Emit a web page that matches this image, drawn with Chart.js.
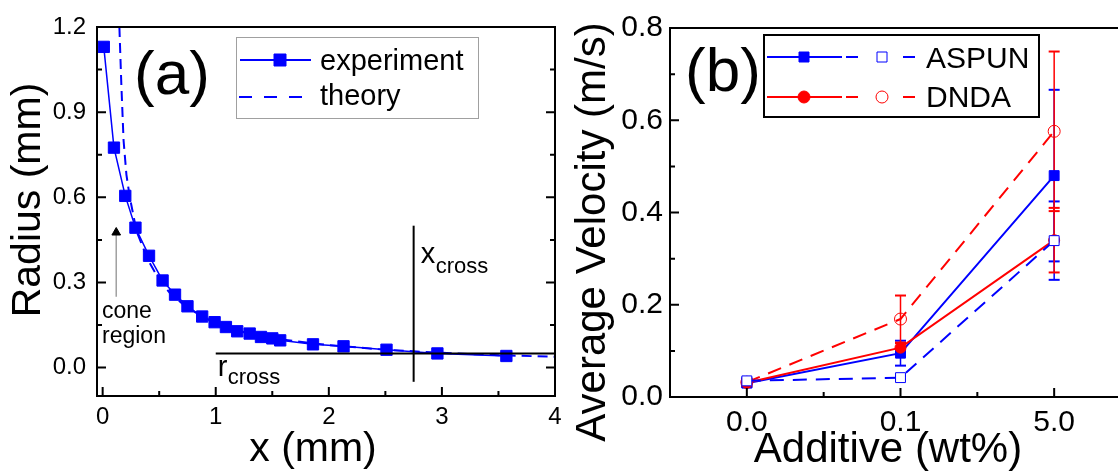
<!DOCTYPE html>
<html>
<head>
<meta charset="utf-8">
<script src="https://cdn.jsdelivr.net/npm/chart.js@4.4.1/dist/chart.umd.min.js"></script>
<style>
    html, body { margin: 0; padding: 0; background: #fff; overflow: hidden; }
    #wrap { position: relative; width: 1118px; height: 476px; overflow: hidden; }
    #chart-a { position: absolute; left: 0; top: 0; }
    #chart-b { position: absolute; left: 560px; top: 0; }
</style>
</head>
<body>
<div id="wrap">
    <canvas id="chart-a" width="570" height="476"></canvas>
    <canvas id="chart-b" width="600" height="476"></canvas>
</div>
<script>
// ---- panel (a): radius along x ----
const expX = [0.01, 0.10, 0.20, 0.29, 0.41, 0.53, 0.64, 0.75, 0.88, 0.99, 1.09, 1.19, 1.30, 1.40, 1.50, 1.57, 1.86, 2.13, 2.51, 2.96, 3.57];
const expY = [1.13, 0.775, 0.605, 0.493, 0.394, 0.307, 0.257, 0.216, 0.180, 0.160, 0.143, 0.128, 0.120, 0.108, 0.103, 0.096, 0.082, 0.075, 0.063, 0.050, 0.041];
const theoryX = [0.148, 0.165, 0.185, 0.21, 0.24, 0.30, 0.40, 0.50, 0.60, 0.75, 1.0, 1.25, 1.5, 2.0, 2.5, 3.0, 3.5, 4.0];
const theoryY = [1.2, 1.0, 0.80, 0.68, 0.60, 0.48, 0.38, 0.31, 0.26, 0.21, 0.155, 0.125, 0.103, 0.079, 0.063, 0.052, 0.044, 0.038];
const xCross = 2.75;
const rCross = 0.05;
const aXTicks = [0, 1, 2, 3, 4];
const aXMinor = [0.5, 1.5, 2.5, 3.5];
const aYTicks = [0, 0.3, 0.6, 0.9, 1.2];
const aYMinor = [0.15, 0.45, 0.75, 1.05];

// ---- panel (b): average velocity vs additive ----
const additives = ['0.0', '0.1', '5.0'];
const aspunSolid = [0.030, 0.095, 0.480];
const aspunSolidErr = [0.008, 0.027, 0.186];
const aspunOpen = [0.035, 0.042, 0.339];
const aspunOpenErr = [0.006, 0.004, 0.085];
const dndaSolid = [0.031, 0.107, 0.340];
const dndaSolidErr = [0.008, 0.010, 0.070];
const dndaOpen = [0.032, 0.169, 0.576];
const dndaOpenErr = [0.007, 0.051, 0.173];
const bYTicks = [0, 0.2, 0.4, 0.6, 0.8];
const bYMinor = [0.1, 0.3, 0.5, 0.7];
const bXMinor = [0.5, 1.5];

const FONT = "'Liberation Sans', Arial, sans-serif";
const BLUE = '#0000ff';
const RED = '#ff0000';
const NONE = 'rgba(0,0,0,0)';

Chart.defaults.font.family = FONT;
Chart.defaults.color = '#000';

function font(size) {
    return size + 'px ' + FONT;
}

// box round the plot with Origin style inward ticks
function framePlugin(opts) {
    return {
        id: 'frame',
        afterDatasetsDraw(chart) {
            const ctx = chart.ctx;
            const a = chart.chartArea;
            const x = chart.scales.x;
            const y = chart.scales.y;
            ctx.save();
            ctx.strokeStyle = '#000';
            ctx.lineWidth = 2;
            ctx.beginPath();
            opts.xMajor.forEach(v => {
                const px = x.getPixelForValue(v);
                ctx.moveTo(px, a.bottom);
                ctx.lineTo(px, a.bottom - 9);
            });
            opts.xMinor.forEach(v => {
                const px = x.getPixelForValue(v);
                ctx.moveTo(px, a.bottom);
                ctx.lineTo(px, a.bottom - 5);
            });
            opts.yMajor.forEach(v => {
                const py = y.getPixelForValue(v);
                ctx.moveTo(a.left, py);
                ctx.lineTo(a.left + 9, py);
                if (opts.right) {
                    ctx.moveTo(a.right, py);
                    ctx.lineTo(a.right - 9, py);
                }
            });
            opts.yMinor.forEach(v => {
                const py = y.getPixelForValue(v);
                ctx.moveTo(a.left, py);
                ctx.lineTo(a.left + 5, py);
                if (opts.right) {
                    ctx.moveTo(a.right, py);
                    ctx.lineTo(a.right - 5, py);
                }
            });
            ctx.stroke();
            ctx.strokeRect(a.left, a.top, a.right - a.left, a.bottom - a.top);
            ctx.restore();
        }
    };
}

function drawText(ctx, text, x, y, size, align, rotate) {
    ctx.save();
    ctx.font = font(size);
    ctx.fillStyle = '#000';
    ctx.textAlign = align || 'left';
    ctx.textBaseline = 'alphabetic';
    ctx.translate(x, y);
    if (rotate) ctx.rotate(-Math.PI / 2);
    ctx.fillText(text, 0, 0);
    ctx.restore();
}

function marker(ctx, style, x, y, size, color, filled) {
    ctx.save();
    ctx.strokeStyle = color;
    ctx.fillStyle = filled ? color : '#fff';
    ctx.lineWidth = 1;
    ctx.beginPath();
    if (style === 'rect') {
        ctx.rect(x - size / 2, y - size / 2, size, size);
    } else {
        ctx.arc(x, y, size / 2, 0, Math.PI * 2);
    }
    ctx.fill();
    ctx.stroke();
    ctx.restore();
}

const annotationsA = {
    id: 'annotationsA',
    afterDraw(chart) {
        const ctx = chart.ctx;
        const x = chart.scales.x;
        const y = chart.scales.y;

        drawText(ctx, 'Radius (mm)', 40, 200, 41, 'center', true);
        drawText(ctx, 'x (mm)', 313, 461, 41, 'center');
        drawText(ctx, '(a)', 134, 94, 62);

        // x_cross and r_cross labels
        const xc = x.getPixelForValue(xCross);
        drawText(ctx, 'x', xc + 7, 263, 29);
        drawText(ctx, 'cross', xc + 22, 273, 22);
        const r1 = x.getPixelForValue(1);
        const rc = y.getPixelForValue(rCross);
        drawText(ctx, 'r', r1 + 2, rc + 23, 29);
        drawText(ctx, 'cross', r1 + 12, rc + 31, 22);

        drawText(ctx, 'cone', 102, 318, 23);
        drawText(ctx, 'region', 102, 343, 23);

        // legend
        ctx.save();
        ctx.strokeStyle = '#a0a0a0';
        ctx.lineWidth = 1;
        ctx.strokeRect(236.5, 37.5, 242, 81);
        ctx.strokeStyle = BLUE;
        ctx.lineWidth = 2;
        ctx.beginPath();
        ctx.moveTo(240, 60);
        ctx.lineTo(311, 60);
        ctx.stroke();
        ctx.setLineDash([13, 12]);
        ctx.beginPath();
        ctx.moveTo(239, 97);
        ctx.lineTo(311, 97);
        ctx.stroke();
        ctx.restore();
        marker(ctx, 'rect', 280, 60, 12, BLUE, true);
        drawText(ctx, 'experiment', 320, 70, 29);
        drawText(ctx, 'theory', 320, 105, 29);
    }
};

const annotationsB = {
    id: 'annotationsB',
    afterDraw(chart) {
        const ctx = chart.ctx;
        drawText(ctx, 'Average Velocity (m/s)', 45, 232, 42, 'center', true);
        drawText(ctx, 'Additive (wt%)', 328, 462, 42, 'center');
        drawText(ctx, '(b)', 125, 91, 62);

        // legend
        ctx.save();
        ctx.strokeStyle = '#000';
        ctx.lineWidth = 2;
        ctx.strokeRect(204, 35, 275, 82);
        const rows = [
            {y: 57, color: BLUE, style: 'rect', text: 'ASPUN', base: 68},
            {y: 97, color: RED, style: 'circle', text: 'DNDA', base: 107}
        ];
        rows.forEach(r => {
            ctx.strokeStyle = r.color;
            ctx.lineWidth = 2;
            ctx.beginPath();
            ctx.moveTo(207, r.y);
            ctx.lineTo(282, r.y);
            ctx.moveTo(286, r.y);
            ctx.lineTo(298, r.y);
            ctx.moveTo(343, r.y);
            ctx.lineTo(355, r.y);
            ctx.stroke();
            marker(ctx, r.style, 244, r.y, r.style === 'rect' ? 10 : 12, r.color, true);
            marker(ctx, r.style, 322, r.y, r.style === 'rect' ? 10 : 12, r.color, false);
            drawText(ctx, r.text, 366, r.base, 30);
        });
        ctx.restore();
    }
};

// ---------- chart (a) ----------
new Chart(document.getElementById('chart-a'), {
    type: 'line',
    data: {
        datasets: [
            {
                label: 'experiment',
                data: expX.map((v, i) => ({x: v, y: expY[i]})),
                borderColor: BLUE,
                backgroundColor: BLUE,
                borderWidth: 1.5,
                pointStyle: 'rect',
                pointRadius: 8,
                pointBorderWidth: 1,
                order: 1
            },
            {
                label: 'theory',
                data: theoryX.map((v, i) => ({x: v, y: theoryY[i]})),
                borderColor: BLUE,
                borderWidth: 2,
                borderDash: [10, 6],
                pointRadius: 0,
                order: 2
            },
            {
                label: 'x cross',
                data: [{x: xCross, y: -0.05}, {x: xCross, y: 0.5}],
                borderColor: '#000',
                borderWidth: 2,
                pointRadius: 0,
                order: 0
            },
            {
                label: 'r cross',
                data: [{x: 1, y: rCross}, {x: 4, y: rCross}],
                borderColor: '#000',
                borderWidth: 2,
                pointRadius: 0,
                order: 0
            },
            {
                label: 'cone arrow',
                data: [{x: 0.12, y: 0.25}, {x: 0.12, y: 0.476}],
                borderColor: '#a0a0a0',
                borderWidth: 1.5,
                pointStyle: 'triangle',
                pointRadius: [0, 5],
                pointBackgroundColor: '#000',
                pointBorderColor: '#000',
                pointBorderWidth: 1,
                order: 3
            }
        ]
    },
    options: {
        responsive: false,
        animation: false,
        layout: {padding: {left: 0, top: 27, right: 15, bottom: 0}},
        plugins: {legend: {display: false}, tooltip: {enabled: false}},
        scales: {
            x: {
                type: 'linear',
                min: -0.05,
                max: 4,
                afterBuildTicks: s => { s.ticks = aXTicks.map(v => ({value: v})); },
                afterFit: s => { s.height = 80; },
                grid: {display: false, drawTicks: false},
                border: {display: false},
                ticks: {font: {size: 24}, padding: 7, maxRotation: 0, autoSkip: false, callback: v => String(v)}
            },
            y: {
                type: 'linear',
                min: -0.1,
                max: 1.2,
                afterBuildTicks: s => { s.ticks = aYTicks.map(v => ({value: v})); },
                afterFit: s => { s.width = 97; },
                grid: {display: false, drawTicks: false},
                border: {display: false},
                ticks: {font: {size: 24}, padding: 11, callback: v => Number(v).toFixed(1)}
            }
        }
    },
    plugins: [framePlugin({xMajor: aXTicks, xMinor: aXMinor, yMajor: aYTicks, yMinor: aYMinor, right: true}), annotationsA]
});

// ---------- chart (b) ----------
function pts(vals) {
    return vals.map((v, i) => ({x: i, y: v}));
}

function errPts(vals, errs) {
    const out = [];
    vals.forEach((v, i) => {
        out.push({x: i, y: v - errs[i]}, {x: i, y: v + errs[i]}, {x: i, y: null});
    });
    return out;
}

function errSet(vals, errs, color, order) {
    return {
        data: errPts(vals, errs),
        borderColor: color,
        borderWidth: 1.5,
        pointStyle: 'line',
        pointRadius: 5.5,
        pointBorderColor: color,
        pointBorderWidth: 2,
        spanGaps: false,
        order: order
    };
}

new Chart(document.getElementById('chart-b'), {
    type: 'line',
    data: {
        datasets: [
            {
                label: 'DNDA',
                data: pts(dndaSolid),
                borderColor: RED,
                backgroundColor: RED,
                borderWidth: 2,
                pointStyle: 'circle',
                pointRadius: 5.5,
                pointBorderWidth: 1,
                order: 2
            },
            {
                label: 'DNDA open',
                data: pts(dndaOpen),
                borderColor: RED,
                borderWidth: 2,
                borderDash: [14, 9],
                pointStyle: 'circle',
                pointRadius: 6,
                pointBackgroundColor: NONE,
                pointBorderWidth: 1,
                order: 3
            },
            {
                label: 'ASPUN',
                data: pts(aspunSolid),
                borderColor: BLUE,
                backgroundColor: BLUE,
                borderWidth: 2,
                pointStyle: 'rect',
                pointRadius: 7,
                pointBorderWidth: 1,
                order: 4
            },
            {
                label: 'ASPUN open',
                data: pts(aspunOpen),
                borderColor: BLUE,
                backgroundColor: '#fff',
                borderWidth: 2,
                borderDash: [14, 9],
                pointStyle: 'rect',
                pointRadius: 7,
                pointBackgroundColor: '#fff',
                pointBorderWidth: 1,
                order: 1
            },
            errSet(dndaSolid, dndaSolidErr, RED, 5),
            errSet(dndaOpen, dndaOpenErr, RED, 6),
            errSet(aspunSolid, aspunSolidErr, BLUE, 7),
            errSet(aspunOpen, aspunOpenErr, BLUE, 8)
        ]
    },
    options: {
        responsive: false,
        animation: false,
        layout: {padding: {left: 0, top: 28, right: 29, bottom: 0}},
        plugins: {legend: {display: false}, tooltip: {enabled: false}},
        scales: {
            x: {
                type: 'linear',
                min: -0.5,
                max: 2.5,
                afterBuildTicks: s => { s.ticks = additives.map((c, i) => ({value: i})); },
                afterFit: s => { s.height = 79; },
                grid: {display: false, drawTicks: false},
                border: {display: false},
                ticks: {font: {size: 30}, padding: 8, maxRotation: 0, autoSkip: false, callback: v => additives[v]}
            },
            y: {
                type: 'linear',
                min: 0,
                max: 0.8,
                afterBuildTicks: s => { s.ticks = bYTicks.map(v => ({value: v})); },
                afterFit: s => { s.width = 110; },
                grid: {display: false, drawTicks: false},
                border: {display: false},
                ticks: {font: {size: 30}, padding: 7, callback: v => Number(v).toFixed(1)}
            }
        }
    },
    plugins: [framePlugin({xMajor: [0, 1, 2], xMinor: bXMinor, yMajor: bYTicks, yMinor: bYMinor, right: false}), annotationsB]
});
</script>
</body>
</html>
